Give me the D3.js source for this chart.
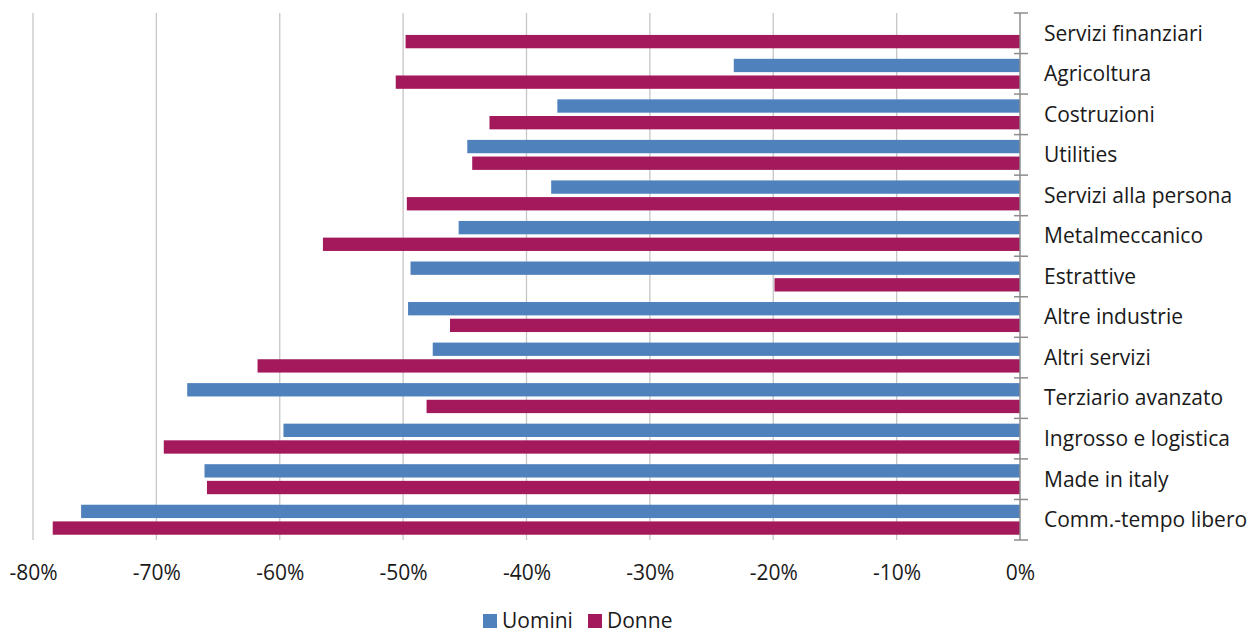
<!DOCTYPE html>
<html>
<head>
<meta charset="utf-8">
<script src="https://cdn.jsdelivr.net/npm/d3@7"></script>
<style>
  body { margin: 0; background: #fff; overflow: hidden; }
  text { font-family: "Open Sans", sans-serif; fill: #1a1a1a; }
</style>
</head>
<body>
<div id="wrapper"></div>
<script>
const categories = [
  "Servizi finanziari", "Agricoltura", "Costruzioni", "Utilities",
  "Servizi alla persona", "Metalmeccanico", "Estrattive", "Altre industrie",
  "Altri servizi", "Terziario avanzato", "Ingrosso e logistica",
  "Made in italy", "Comm.-tempo libero"
];
const series = ["Uomini", "Donne"];
const uomini = [null, -23.2, -37.5, -44.8, -38.0, -45.5, -49.4, -49.6, -47.6, -67.5, -59.7, -66.1, -76.1];
const donne = [-49.8, -50.6, -43.0, -44.4, -49.7, -56.5, -19.9, -46.2, -61.8, -48.1, -69.4, -65.9, -78.4];
const xTicks = [-80, -70, -60, -50, -40, -30, -20, -10, 0];
const colors = ["#4f81bd", "#a3195b"];

const data = categories.map((c, i) => ({ cat: c, values: [uomini[i], donne[i]] }));

const W = 1252, H = 634;
const margin = { top: 13, right: 232, bottom: 94, left: 33 };
const width = W - margin.left - margin.right;
const height = H - margin.top - margin.bottom;
const fontSize = `21px`;

const svg = d3.select(`#wrapper`)
  .append(`svg`)
  .attr(`width`, W)
  .attr(`height`, H)
  .style(`display`, `block`);

const g = svg.append(`g`)
  .attr(`transform`, `translate(${margin.left}, ${margin.top})`);

const xScale = d3.scaleLinear().domain([-80, 0]).range([0, width]);
const yScale = d3.scaleBand().domain(categories).range([0, height])
  .paddingInner(0.26).paddingOuter(0.13);
const ySub = d3.scaleBand().domain(series).range([0, yScale.bandwidth()]).paddingInner(0.2);
const colorScale = d3.scaleOrdinal().domain(series).range(colors);

// vertical gridlines
g.append(`g`)
  .selectAll(`line`)
  .data(xTicks.filter(d => d !== 0))
  .join(`line`)
  .attr(`x1`, d => xScale(d))
  .attr(`x2`, d => xScale(d))
  .attr(`y1`, 0)
  .attr(`y2`, height)
  .attr(`stroke`, `#c6c6c6`)
  .attr(`stroke-width`, 1.3);

// bars
const groups = g.append(`g`)
  .selectAll(`g`)
  .data(data)
  .join(`g`)
  .attr(`transform`, d => `translate(0, ${yScale(d.cat)})`);

groups.selectAll(`rect`)
  .data(d => series.map((s, j) => ({ s, v: d.values[j] })).filter(e => e.v !== null))
  .join(`rect`)
  .attr(`x`, d => xScale(d.v))
  .attr(`y`, d => ySub(d.s))
  .attr(`width`, d => xScale(0) - xScale(d.v))
  .attr(`height`, ySub.bandwidth())
  .attr(`fill`, d => colorScale(d.s));

// x axis labels
const xAxis = g.append(`g`)
  .attr(`transform`, `translate(0, ${height})`)
  .call(d3.axisBottom(xScale).tickValues(xTicks).tickFormat(d => `${d}%`).tickSize(0).tickPadding(25));
xAxis.select(`.domain`).remove();
xAxis.selectAll(`text`)
  .style(`font-family`, `"Open Sans", sans-serif`)
  .style(`font-size`, fontSize)
  .attr(`fill`, `#1a1a1a`);

// y axis on the right side at 0
const yAxis = g.append(`g`)
  .attr(`transform`, `translate(${xScale(0)}, 0)`);
yAxis.append(`line`)
  .attr(`y1`, 0).attr(`y2`, height)
  .attr(`stroke`, `#8c8c8c`).attr(`stroke-width`, 1.5);
yAxis.selectAll(`.tick`)
  .data(d3.range(categories.length + 1))
  .join(`line`)
  .attr(`x1`, -6).attr(`x2`, 8)
  .attr(`y1`, i => i * yScale.step())
  .attr(`y2`, i => i * yScale.step())
  .attr(`stroke`, `#8c8c8c`).attr(`stroke-width`, 1.5);
yAxis.selectAll(`text`)
  .data(categories)
  .join(`text`)
  .attr(`x`, 24)
  .attr(`y`, d => yScale(d) + yScale.bandwidth() / 2)
  .attr(`dy`, `0.35em`)
  .style(`font-size`, fontSize)
  .text(d => d);

// legend
const legend = svg.append(`g`).attr(`transform`, `translate(483, 621)`);
const legendX = [0, 105];
series.forEach((s, i) => {
  const lg = legend.append(`g`).attr(`transform`, `translate(${legendX[i]}, 0)`);
  lg.append(`rect`).attr(`x`, 0).attr(`y`, -7).attr(`width`, 14).attr(`height`, 14).attr(`fill`, colors[i]);
  lg.append(`text`).attr(`x`, 19).attr(`y`, 0).attr(`dy`, `0.33em`).style(`font-size`, fontSize).text(s);
});
</script>
</body>
</html>
